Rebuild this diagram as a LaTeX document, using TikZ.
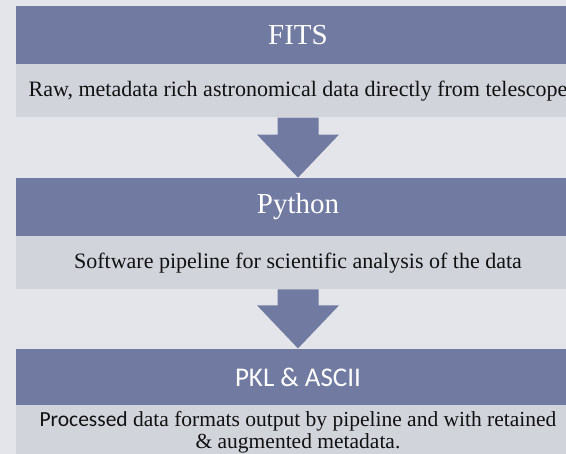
\documentclass[tikz,border=0pt]{standalone}
\usepackage{fontspec}
\setmainfont{Liberation Serif}
\newfontfamily\calibri{Carlito}
\usepackage{tikz}
\usetikzlibrary{positioning, calc}
\definecolor{pagebg}{HTML}{E4E5EA}
\definecolor{headbg}{HTML}{717BA2}
\definecolor{bodybg}{HTML}{D2D4DC}
\definecolor{bodytext}{HTML}{111111}

\begin{document}
\begin{tikzpicture}[
    head/.style={rectangle, fill=headbg, text=white, minimum width=564pt,
                 minimum height=58pt, inner sep=0pt, font=\fontsize{29}{32}\selectfont},
    body/.style={rectangle, fill=bodybg, text=bodytext, minimum width=564pt,
                 minimum height=53pt, inner sep=0pt, align=center,
                 font=\fontsize{22}{23}\selectfont},
    flow/.style={fill=headbg}
  ]
    \clip (0,0) rectangle (566pt,454pt);
    \fill[pagebg] (0,0) rectangle (566pt,454pt);

    % Stages
    \node[head] (fits) at (298pt, 419pt) {FITS};
    \node[body, below=0pt of fits] (raw)
      {Raw, metadata rich astronomical data directly from telescope};
    \node[head, below=60pt of raw] (python) {Python};
    \node[body, below=0pt of python] (soft)
      {Software pipeline for scientific analysis of the data};
    \node[head, below=59pt of soft, font=\calibri\fontsize{27}{30}\selectfont] (pkl)
      {PKL \& ASCII};
    \node[body, below=0pt of pkl, yshift=1.5pt, font=\fontsize{21.5}{22}\selectfont] (proc)
      {{\calibri Processed} data formats output by pipeline and with retained\\
       \& augmented metadata.};

    % Arrows
    \foreach \from/\to in {raw/python, soft/pkl}
      \fill[flow] ($(\from.south)+(-20.5pt,0)$) -- ($(\from.south)+(20.5pt,0)$)
        -- ($(\to.north)+(20.5pt,43pt)$) -- ($(\to.north)+(41pt,43pt)$)
        -- (\to.north) -- ($(\to.north)+(-41pt,43pt)$)
        -- ($(\to.north)+(-20.5pt,43pt)$) -- cycle;
  \end{tikzpicture}
\end{document}
